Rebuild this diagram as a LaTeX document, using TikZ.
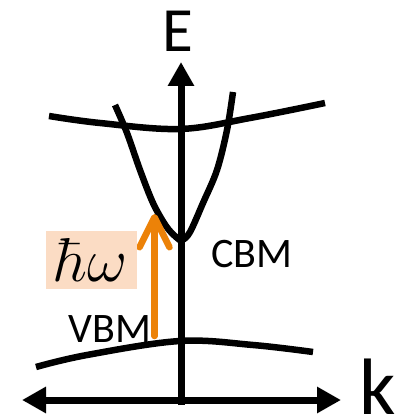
\RequirePackage{fix-cm}
\documentclass[tikz,border=0pt]{standalone}
\usepackage{fontspec}
\usetikzlibrary{arrows.meta}
\newfontfamily\calib{Carlito}
\definecolor{phot}{RGB}{236,130,8}
\definecolor{peach}{RGB}{251,220,196}
\tikzset{
  axis/.style={line width=7pt,-{Triangle[length=24pt,width=25pt]}},
  band/.style={line width=6.5pt},
  lbl/.style={inner sep=0pt,anchor=base,font=\calib}
}
\begin{document}
\begin{tikzpicture}[x=1pt,y=-1pt]
\useasboundingbox (0,0) rectangle (407,419);
% axes
\coordinate (o) at (181,405);
\coordinate (etop) at (181,62);
\coordinate (kl) at (22,400);
\coordinate (kr) at (341,400);
\coordinate (kc) at (181,400);
\draw[axis] (o) -- (etop);
\draw[axis] (kc) -- (kl);
\draw[axis] (kc) -- (kr);
% bands
\draw[band] plot[smooth,tension=0.6] coordinates {(49,116) (100,123) (180,129) (250,118) (325,103)};
\draw[band] plot[smooth,tension=0.55] coordinates {(115,105) (127,133) (140,170) (153,203) (166,226) (176,237) (182,240) (190,232) (203,203) (217,170) (227,130) (233,92)};
\draw[band] plot[smooth,tension=0.6] coordinates {(36,367) (87,355) (180,341) (253,345) (313,352)};
% photon
\coordinate (vbm) at (154.5,336);
\coordinate (cbm) at (154.5,214);
\draw[line width=6.5pt,phot,line cap=round,-{Straight Barb[length=30pt,width=30pt,round]}] (vbm) -- (cbm);
% labels
\node[lbl,font=\calib\fontsize{63}{63}\selectfont] (E) at (177.5,52) {E};
\node[lbl,font=\calib\fontsize{80}{80}\selectfont] (k) at (378,414) {k};
\node[lbl,font=\calib\fontsize{42}{42}\selectfont] (C) at (252,267) {CBM};
\node[lbl,font=\calib\fontsize{42}{42}\selectfont] (V) at (110,342) {VBM};
\node[fill=peach,minimum width=91pt,minimum height=58pt,inner sep=0pt] (hw) at (91.5,260) {\fontsize{62}{62}\selectfont\raisebox{-2pt}{$\hbar\omega$}};
\end{tikzpicture}
\end{document}
